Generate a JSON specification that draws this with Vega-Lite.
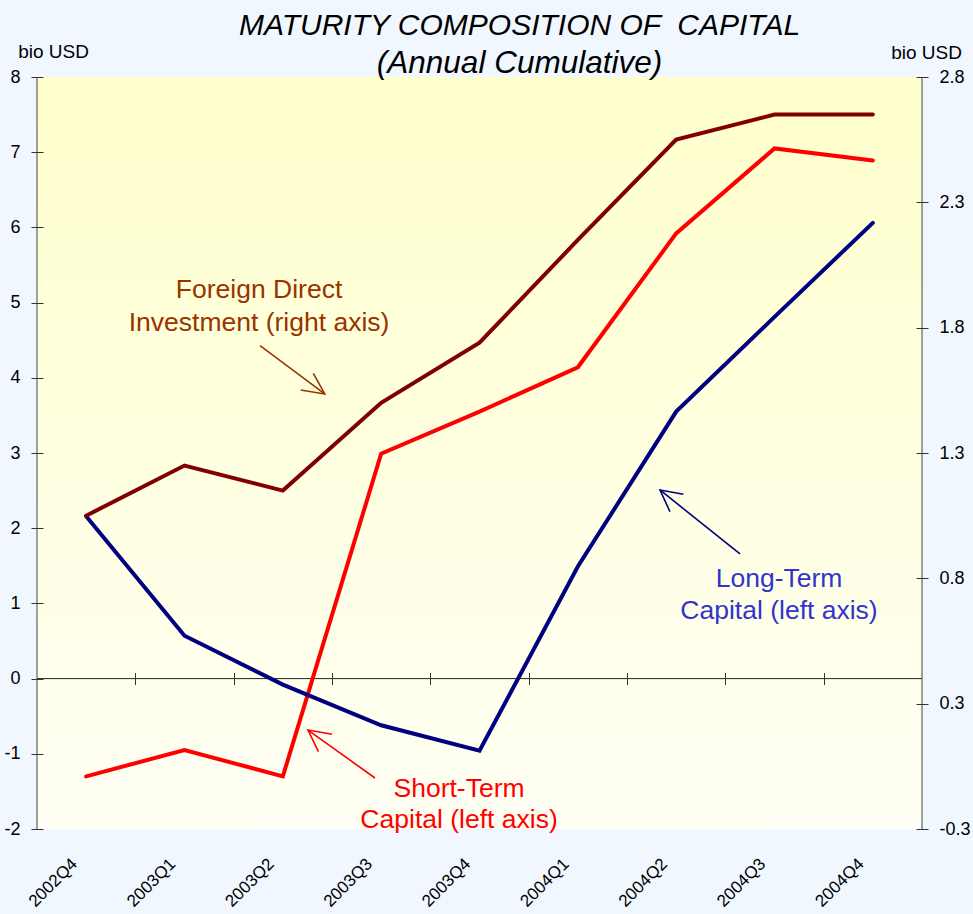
{
  "$schema": "https://vega.github.io/schema/vega-lite/v6.json",
  "width": 885,
  "height": 752,
  "autosize": {"type": "none"},
  "padding": {"left": 37, "top": 77, "right": 51, "bottom": 85},
  "background": "#F0F7FF",
  "config": {
    "view": {"stroke": null},
    "font": "Liberation Sans",
    "axis": {"labelColor": "#000", "titleColor": "#000", "tickColor": "#333", "labelFont": "Liberation Sans", "titleFont": "Liberation Sans"}
  },
  "title": {
    "text": "MATURITY COMPOSITION OF \u00a0CAPITAL",
    "subtitle": "(Annual Cumulative)",
    "anchor": "middle",
    "frame": "group",
    "dx": 40,
    "offset": -37,
    "font": "Liberation Sans",
    "fontSize": 30,
    "fontStyle": "italic",
    "fontWeight": "normal",
    "color": "#000",
    "subtitleFont": "Liberation Sans",
    "subtitleFontSize": 31.5,
    "subtitleFontStyle": "italic",
    "subtitleColor": "#000",
    "subtitlePadding": 7.5
  },
  "datasets": {
    "series": [
      {"quarter": "2002Q4", "i": 0, "st": -1.30, "lt": 2.16, "fdi": 1.00},
      {"quarter": "2003Q1", "i": 1, "st": -0.95, "lt": 0.57, "fdi": 1.20},
      {"quarter": "2003Q2", "i": 2, "st": -1.30, "lt": -0.08, "fdi": 1.10},
      {"quarter": "2003Q3", "i": 3, "st": 2.99, "lt": -0.62, "fdi": 1.45},
      {"quarter": "2003Q4", "i": 4, "st": 3.55, "lt": -0.96, "fdi": 1.69},
      {"quarter": "2004Q1", "i": 5, "st": 4.14, "lt": 1.49, "fdi": 2.10},
      {"quarter": "2004Q2", "i": 6, "st": 5.92, "lt": 3.55, "fdi": 2.50},
      {"quarter": "2004Q3", "i": 7, "st": 7.05, "lt": 4.81, "fdi": 2.60},
      {"quarter": "2004Q4", "i": 8, "st": 6.89, "lt": 6.06, "fdi": 2.60}
    ],
    "notes": [
      {"group": "FDI", "text": "Foreign Direct", "x": 1.758, "y": 5.057},
      {"group": "FDI", "text": "Investment (right axis)", "x": 1.758, "y": 4.626},
      {"group": "ST", "text": "Short-Term", "x": 3.792, "y": -1.574},
      {"group": "ST", "text": "Capital (left axis)", "x": 3.792, "y": -1.987},
      {"group": "LT", "text": "Long-Term", "x": 7.046, "y": 1.214},
      {"group": "LT", "text": "Capital (left axis)", "x": 7.046, "y": 0.799}
    ],
    "arrows": [
      {"group": "FDI", "seg": "FDI-shaft", "k": 0, "x": 1.768, "y": 4.427},
      {"group": "FDI", "seg": "FDI-shaft", "k": 1, "x": 2.426, "y": 3.785},
      {"group": "FDI", "seg": "FDI-head", "k": 0, "x": 2.310, "y": 4.060},
      {"group": "FDI", "seg": "FDI-head", "k": 1, "x": 2.426, "y": 3.785},
      {"group": "FDI", "seg": "FDI-head", "k": 2, "x": 2.182, "y": 3.838},
      {"group": "ST", "seg": "ST-shaft", "k": 0, "x": 2.937, "y": -1.322},
      {"group": "ST", "seg": "ST-shaft", "k": 1, "x": 2.256, "y": -0.684},
      {"group": "ST", "seg": "ST-head", "k": 0, "x": 2.500, "y": -0.741},
      {"group": "ST", "seg": "ST-head", "k": 1, "x": 2.256, "y": -0.684},
      {"group": "ST", "seg": "ST-head", "k": 2, "x": 2.362, "y": -0.972},
      {"group": "LT", "seg": "LT-shaft", "k": 0, "x": 6.649, "y": 1.657},
      {"group": "LT", "seg": "LT-shaft", "k": 1, "x": 5.836, "y": 2.508},
      {"group": "LT", "seg": "LT-head", "k": 0, "x": 6.073, "y": 2.451},
      {"group": "LT", "seg": "LT-head", "k": 1, "x": 5.836, "y": 2.508},
      {"group": "LT", "seg": "LT-head", "k": 2, "x": 5.937, "y": 2.219}
    ]
  },
  "layer": [
    {
      "layer": [
        {
          "data": {"name": "series"},
          "mark": {"type": "line", "color": "#FF0000", "strokeWidth": 4, "strokeCap": "round", "opacity": 0},
          "encoding": {
            "x": {
              "field": "i", "type": "quantitative",
              "scale": {"domain": [-0.5, 8.5], "nice": false, "zero": false},
              "axis": {
                "orient": "bottom", "values": [0, 1, 2, 3, 4, 5, 6, 7, 8],
                "labelExpr": "['2002Q4','2003Q1','2003Q2','2003Q3','2003Q4','2004Q1','2004Q2','2004Q3','2004Q4'][datum.value]",
                "labelAngle": -45, "labelAlign": "right", "labelBaseline": "middle",
                "labelFontSize": 17, "labelPadding": 32, "labelOffset": -12,
                "ticks": false, "domain": false, "grid": false, "title": null,
                "labelFlush": false, "labelOverlap": false, "labelBound": false, "zindex": 1
              }
            },
            "y": {
              "field": "st", "type": "quantitative",
              "scale": {"domain": [-2, 8], "nice": false, "zero": false},
              "axis": {
                "orient": "left", "values": [-2, -1, 0, 1, 2, 3, 4, 5, 6, 7, 8],
                "labelExpr": "(datum.value < 0 ? '-' : '') + abs(datum.value)",
                "offset": -6, "tickSize": 12, "domain": false, "grid": false,
                "labelFontSize": 18, "labelPadding": 11,
                "title": "bio USD", "titleAngle": 0, "titleFontSize": 19, "titleFontWeight": "normal",
                "titleAlign": "center", "titleBaseline": "alphabetic", "titleX": 10, "titleY": -19.5,
                "zindex": 1
              }
            }
          }
        },
        {
          "data": {"values": [{}]},
          "mark": {
            "type": "rect",
            "fill": {
              "gradient": "linear", "x1": 0, "y1": 0, "x2": 0, "y2": 1,
              "stops": [
                {"offset": 0, "color": "#FFFFCC"},
                {"offset": 1, "color": "#FFFFF5"}
              ]
            }
          },
          "encoding": {
            "x": {"datum": -0.5, "type": "quantitative"},
            "x2": {"datum": 8.5},
            "y": {"datum": -2, "type": "quantitative"},
            "y2": {"datum": 8}
          }
        },
        {
          "data": {"values": [{}]},
          "mark": {"type": "rule", "color": "#222", "strokeWidth": 1},
          "encoding": {
            "y": {"datum": 0, "type": "quantitative"}
          }
        },
        {
          "data": {"values": [{}]},
          "mark": {"type": "rule", "color": "#444", "strokeWidth": 1},
          "encoding": {
            "x": {"datum": -0.5, "type": "quantitative"}
          }
        },
        {
          "data": {"values": [{}]},
          "mark": {"type": "rule", "color": "#444", "strokeWidth": 1},
          "encoding": {
            "x": {"datum": 8.5, "type": "quantitative"}
          }
        },
        {
          "data": {"name": "notes"},
          "mark": {"type": "text", "fontSize": 26.5, "align": "center", "baseline": "alphabetic", "font": "Liberation Sans"},
          "encoding": {
            "x": {"field": "x", "type": "quantitative"},
            "y": {"field": "y", "type": "quantitative"},
            "text": {"field": "text"},
            "color": {"field": "group", "type": "nominal", "scale": {"domain": ["FDI", "ST", "LT"], "range": ["#993300", "#FF0000", "#3333CC"]}, "legend": null}
          }
        },
        {
          "data": {"name": "arrows"},
          "mark": {"type": "line", "strokeWidth": 1.6, "strokeJoin": "miter"},
          "encoding": {
            "x": {"field": "x", "type": "quantitative"},
            "y": {"field": "y", "type": "quantitative"},
            "detail": {"field": "seg"},
            "order": {"field": "k"},
            "color": {"field": "group", "type": "nominal", "scale": {"domain": ["FDI", "ST", "LT"], "range": ["#993300", "#FF0000", "#000080"]}, "legend": null}
          }
        },
        {
          "data": {"name": "series"},
          "mark": {"type": "line", "color": "#FF0000", "strokeWidth": 4, "strokeCap": "round"},
          "encoding": {
            "x": {"field": "i", "type": "quantitative"},
            "y": {"field": "st", "type": "quantitative"}
          }
        },
        {
          "data": {"name": "series"},
          "mark": {"type": "line", "color": "#000080", "strokeWidth": 4, "strokeCap": "round"},
          "encoding": {
            "x": {"field": "i", "type": "quantitative"},
            "y": {"field": "lt", "type": "quantitative"}
          }
        }
      ],
      "resolve": {"scale": {"color": "independent"}}
    },
    {
      "data": {"name": "series"},
      "mark": {"type": "line", "color": "#800000", "strokeWidth": 4, "strokeCap": "round"},
      "encoding": {
        "x": {
          "field": "i", "type": "quantitative",
          "scale": {"domain": [-0.5, 8.5], "nice": false, "zero": false},
          "axis": {
            "orient": "bottom", "offset": -156.4,
            "values": [0.5, 1.5, 2.5, 3.5, 4.5, 5.5, 6.5, 7.5],
            "tickSize": 12, "tickColor": "#333", "domain": false, "labels": false, "grid": false, "title": null, "zindex": 1
          }
        },
        "y": {
          "field": "fdi", "type": "quantitative",
          "scale": {"domain": [-0.25, 2.75], "nice": false, "zero": false},
          "axis": {
            "orient": "right", "values": [-0.25, 0.25, 0.75, 1.25, 1.75, 2.25, 2.75],
            "labelExpr": "(datum.value < 0 ? '-' : '') + format(abs(datum.value), '.1f')",
            "offset": -6, "tickSize": 12, "domain": false, "grid": false,
            "labelFontSize": 18, "labelPadding": 11,
            "title": "bio USD", "titleAngle": 0, "titleFontSize": 19, "titleFontWeight": "normal",
            "titleAlign": "center", "titleBaseline": "alphabetic", "titleX": 10, "titleY": -19,
            "zindex": 1
          }
        }
      }
    }
  ],
  "resolve": {"scale": {"y": "independent"}, "axis": {"x": "independent"}}
}
